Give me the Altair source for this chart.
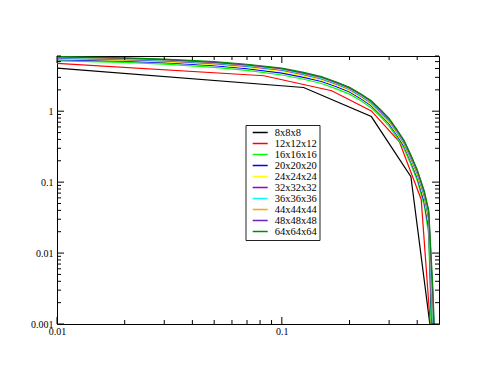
import altair as alt
import pandas as pd

# ---- data ----
LABELS = ["8x8x8", "12x12x12", "16x16x16", "20x20x20", "24x24x24",
          "32x32x32", "36x36x36", "44x44x44", "48x48x48", "64x64x64"]
COLORS = ["#000000", "#ff0000", "#00ff00", "#0000ff", "#ffff00",
          "#9400d3", "#00ffff", "#ffa500", "#7221bc", "#008b00"]

X8 = [0.01, 0.125, 0.25, 0.375, 0.5]
Y8 = [4.06, 2.16, 0.84, 0.119, 1e-4]

X12 = [0.01, 0.0833, 0.1667, 0.25, 0.3333, 0.4167, 0.5]
Y12 = [4.73, 3.16, 1.94, 1.01, 0.37, 0.057, 2e-5]

XF = [0.01, 0.02, 0.03, 0.05, 0.07, 0.1, 0.125, 0.15, 0.175, 0.2, 0.225, 0.25,
      0.275, 0.3, 0.325, 0.35, 0.375, 0.4, 0.43, 0.45, 0.47, 0.485, 0.5]
Y16 = [5.13, 4.87, 4.62, 4.14, 3.76, 3.24, 2.82, 2.46, 2.06, 1.74, 1.40, 1.11,
       0.83, 0.616, 0.425, 0.293, 0.176, 0.105, 0.0465, 0.018, 1.2e-4, 1e-5, 1e-6]
Y20 = [5.31, 5.07, 4.83, 4.37, 3.97, 3.44, 2.99, 2.62, 2.21, 1.87, 1.50, 1.19,
       0.887, 0.664, 0.458, 0.317, 0.193, 0.1155, 0.0525, 0.022, 3e-4, 1e-5, 1e-6]
Y24 = [5.46, 5.21, 4.97, 4.52, 4.13, 3.65, 3.15, 2.73, 2.30, 1.93, 1.55, 1.23,
       0.919, 0.687, 0.477, 0.332, 0.202, 0.123, 0.0578, 0.026, 6e-4, 2e-5, 1e-6]
Y32 = [5.61, 5.35, 5.10, 4.67, 4.29, 3.79, 3.27, 2.86, 2.40, 2.02, 1.62, 1.295,
       0.966, 0.727, 0.505, 0.351, 0.216, 0.132, 0.0638, 0.030, 8e-4, 5e-5, 1e-6]
Y36 = [5.69, 5.43, 5.19, 4.77, 4.36, 3.85, 3.34, 2.90, 2.44, 2.05, 1.65, 1.316,
       0.987, 0.743, 0.516, 0.359, 0.222, 0.1365, 0.0668, 0.033, 1.1e-3, 6e-5, 1e-6]
Y44 = [5.78, 5.52, 5.29, 4.84, 4.45, 3.93, 3.41, 2.98, 2.50, 2.10, 1.70, 1.35,
       1.013, 0.762, 0.530, 0.371, 0.230, 0.1425, 0.0705, 0.036, 1.8e-3, 8e-5, 1e-6]
Y48 = [5.84, 5.58, 5.35, 4.89, 4.50, 3.97, 3.45, 3.01, 2.53, 2.13, 1.715, 1.372,
       1.024, 0.770, 0.538, 0.376, 0.234, 0.1455, 0.0724, 0.038, 2.3e-3, 1e-4, 1e-6]
Y64 = [5.90, 5.66, 5.43, 4.99, 4.59, 4.05, 3.52, 3.07, 2.58, 2.17, 1.75, 1.40,
       1.05, 0.79, 0.552, 0.386, 0.241, 0.150, 0.075, 0.040, 3e-3, 2e-4, 1e-6]

XS = [X8, X12, XF, XF, XF, XF, XF, XF, XF, XF]
YS = [Y8, Y12, Y16, Y20, Y24, Y32, Y36, Y44, Y48, Y64]

X_LABELS = [0.01, 0.1]
Y_LABELS = [0.001, 0.01, 0.1, 1]
X_MINOR = [0.02, 0.03, 0.04, 0.05, 0.06, 0.07, 0.08, 0.09, 0.2, 0.3, 0.4]
Y_MINOR = [0.002, 0.003, 0.004, 0.005, 0.006, 0.007, 0.008, 0.009,
           0.02, 0.03, 0.04, 0.05, 0.06, 0.07, 0.08, 0.09,
           0.2, 0.3, 0.4, 0.5, 0.6, 0.7, 0.8, 0.9,
           2, 3, 4, 5, 6]

rows = []
for lab, xs, ys in zip(LABELS, XS, YS):
    for x, y in zip(xs, ys):
        rows.append({"k": x, "v": y, "mesh": lab})
df = pd.DataFrame(rows)

W, H = 382, 268
FONT = "Liberation Serif"
xscale = alt.Scale(type="log", domain=[0.01, 0.5], nice=False)
yscale = alt.Scale(type="log", domain=[0.001, 6], nice=False)

X_AXIS = alt.Axis(values=X_LABELS, format="~g", domain=False, ticks=False,
                  grid=False, labelFlush=False, labelPadding=2,
                  labelFont=FONT, labelFontSize=10, labelColor="black")
Y_AXIS = alt.Axis(values=Y_LABELS, format="~g", domain=False, ticks=False,
                  grid=False, labelPadding=4,
                  labelFont=FONT, labelFontSize=10, labelColor="black")

lines = alt.Chart(df).mark_line(clip=True, strokeWidth=1.2).encode(
    x=alt.X("k:Q", scale=xscale, title=None, axis=X_AXIS),
    y=alt.Y("v:Q", scale=yscale, title=None, axis=Y_AXIS),
    color=alt.Color("mesh:N", scale=alt.Scale(domain=LABELS, range=COLORS),
                    title=None,
                    legend=alt.Legend(orient="none", legendX=188.5, legendY=69,
                                      padding=2.5, symbolType="stroke", symbolSize=225,
                                      symbolStrokeWidth=1.5, symbolOffset=3.7,
                                      clipHeight=10.1, rowPadding=0, labelOffset=6,
                                      labelFont=FONT, labelFontSize=10.5,
                                      labelColor="black", labelLimit=200,
                                      strokeColor="#222222", fillColor="white",
                                      cornerRadius=0)),
)


def xticks(vals, L):
    d = pd.DataFrame({"t": vals})
    base = alt.Chart(d).mark_rule(color="black", strokeWidth=1)
    bot = base.encode(x=alt.X("t:Q", scale=xscale, title=None, axis=X_AXIS),
                      y=alt.value(H), y2=alt.value(H - L))
    top = base.encode(x=alt.X("t:Q", scale=xscale, title=None, axis=X_AXIS),
                      y=alt.value(0), y2=alt.value(L))
    return [bot, top]


def yticks(vals, L):
    d = pd.DataFrame({"t": vals})
    base = alt.Chart(d).mark_rule(color="black", strokeWidth=1)
    left = base.encode(y=alt.Y("t:Q", scale=yscale, title=None, axis=Y_AXIS),
                       x=alt.value(0), x2=alt.value(L))
    right = base.encode(y=alt.Y("t:Q", scale=yscale, title=None, axis=Y_AXIS),
                        x=alt.value(W), x2=alt.value(W - L))
    return [left, right]


layers = ([lines] + xticks(X_LABELS, 7) + xticks(X_MINOR, 4)
          + yticks(Y_LABELS, 7) + yticks(Y_MINOR, 4))

chart = alt.layer(*layers).properties(
    width=W, height=H,
    autosize=alt.AutoSizeParams(type="none"),
    padding={"left": 49, "top": 48, "right": 40, "bottom": 40},
    background="white",
).configure_view(stroke="black", strokeWidth=1)

chart.save("out.html", embed_options={"renderer": "svg", "actions": False})
